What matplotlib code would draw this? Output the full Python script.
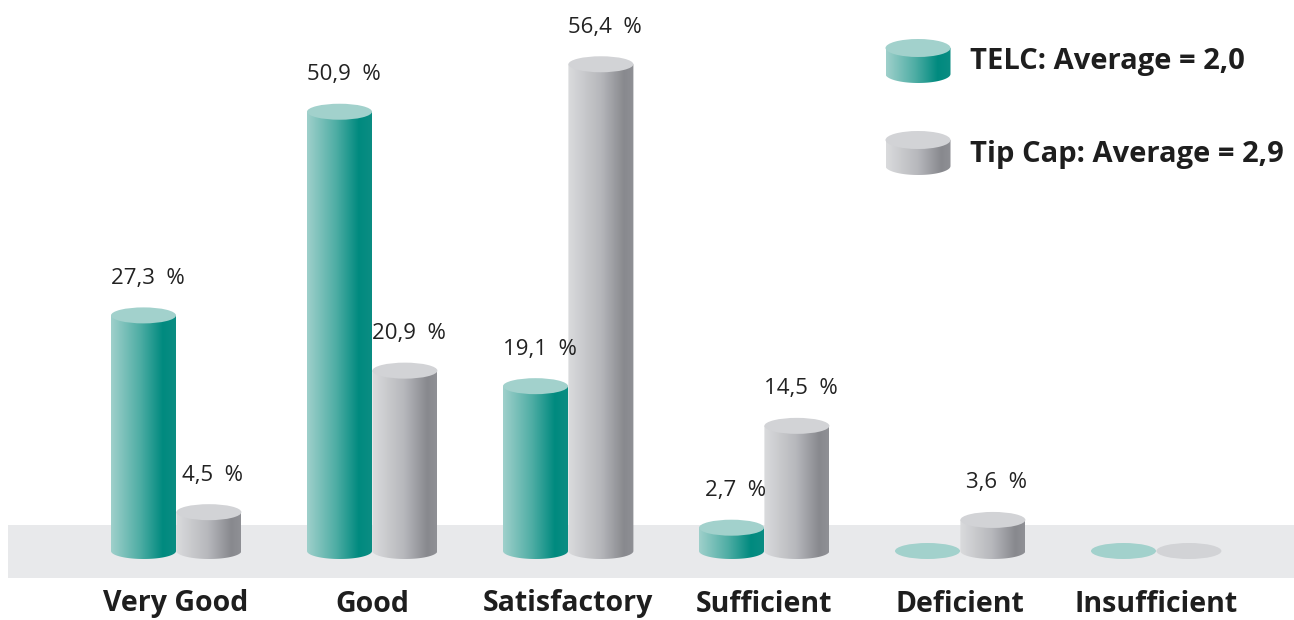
import numpy as np
import matplotlib
matplotlib.use("Agg")
import matplotlib.pyplot as plt
from matplotlib.path import Path
from matplotlib.patches import Ellipse, PathPatch
from matplotlib.colors import LinearSegmentedColormap

categories = ["Very Good", "Good", "Satisfactory", "Sufficient", "Deficient", "Insufficient"]
telc = [27.3, 50.9, 19.1, 2.7, 0.0, 0.0]
tipcap = [4.5, 20.9, 56.4, 14.5, 3.6, 0.0]
series_names = ["TELC: Average = 2,0", "Tip Cap: Average = 2,9"]

W, H = 1294, 620
PX_PER_X = 196.0      # pixels per category
PX_PER_Y = 8.63       # pixels per percent
X0_PX = 176.0         # pixel x of first category
BASE_PX = 551.0       # pixel y of the baseline

def px2x(px):
    return (px - X0_PX) / PX_PER_X

def px2y(py):
    return (BASE_PX - py) / PX_PER_Y

FONT = ["Open Sans", "DejaVu Sans"]
plt.rcParams['font.family'] = FONT

fig = plt.figure(figsize=(W / 100, H / 100), dpi=100)
ax = fig.add_axes([0, 0, 1, 1])
ax.set_xlim(px2x(0), px2x(W))
ax.set_ylim(px2y(H), px2y(0))
ax.axis("off")

BAR_W = 65.0 / PX_PER_X
ELL_H = 8.0 / PX_PER_Y   # semi-height of ellipse in y units

teal_cmap = LinearSegmentedColormap.from_list(
    "teal", [(0, "#9fd0cb"), (0.45, "#4eada4"), (0.8, "#008a7f"), (1, "#0b8d83")])
grey_cmap = LinearSegmentedColormap.from_list(
    "grey", [(0, "#dadbdd"), (0.5, "#b6b7bb"), (0.85, "#88898e"), (1, "#8f9095")])
teal_top = "#a2d1cc"
grey_top = "#d2d3d6"

# floor band
ax.axhspan(px2y(578), px2y(525), xmin=8 / W, xmax=1, color="#e8e9eb", zorder=0, lw=0)

grad = np.linspace(0, 1, 256).reshape(1, -1)

def cylinder(xc, y0, h, cmap, topc, z=2, ell_h=ELL_H):
    x0, x1 = xc - BAR_W / 2, xc + BAR_W / 2
    if h <= 0:
        ax.add_patch(Ellipse((xc, y0), BAR_W, 2 * ell_h, color=topc, lw=0, zorder=z))
        return
    ytop = y0 + h
    t = np.linspace(np.pi, 2 * np.pi, 60)
    arc = np.column_stack([xc + BAR_W / 2 * np.cos(t), y0 + ell_h * np.sin(t)])
    verts = np.vstack([[x0, ytop], [x0, y0], arc, [x1, y0], [x1, ytop], [x0, ytop]])
    path = Path(verts)
    patch = PathPatch(path, facecolor="none", edgecolor="none", transform=ax.transData)
    ax.add_patch(patch)
    im = ax.imshow(grad, cmap=cmap, extent=[x0, x1, y0 - ell_h, ytop],
                   aspect="auto", zorder=z, interpolation="bilinear")
    im.set_clip_path(patch)
    ax.add_patch(Ellipse((xc, ytop), BAR_W, 2 * ell_h, color=topc, lw=0, zorder=z + 0.1))

offset = 32.5 / PX_PER_X
for i, (a, b) in enumerate(zip(telc, tipcap)):
    cylinder(i - offset, 0, a, teal_cmap, teal_top, z=2)
    cylinder(i + offset + 0.002, 0, b, grey_cmap, grey_top, z=3)
    for v, xc in ((a, i - offset), (b, i + offset)):
        if v > 0:
            ax.text(xc + 4 / PX_PER_X, v + 37 / PX_PER_Y, f"{v:.1f}  %".replace(".", ","),
                    ha="center", va="center", fontsize=16, color="#222222", zorder=5)
    ax.text(i, px2y(604), categories[i], ha="center", va="center", fontsize=20.5,
            fontweight="bold", color="#1e1e1e")

# legend
leg_cx = px2x(918)
for k, (cmap, topc, name, ybot) in enumerate(
        [(teal_cmap, teal_top, series_names[0], 74), (grey_cmap, grey_top, series_names[1], 166)]):
    cylinder(leg_cx, px2y(ybot), 26 / PX_PER_Y, cmap, topc, z=4, ell_h=9 / PX_PER_Y)
    ax.text(px2x(970), px2y(ybot - 12), name, ha="left", va="center", fontsize=21,
            fontweight="bold", color="#1e1e1e")

fig.savefig("out.png", dpi=100)
